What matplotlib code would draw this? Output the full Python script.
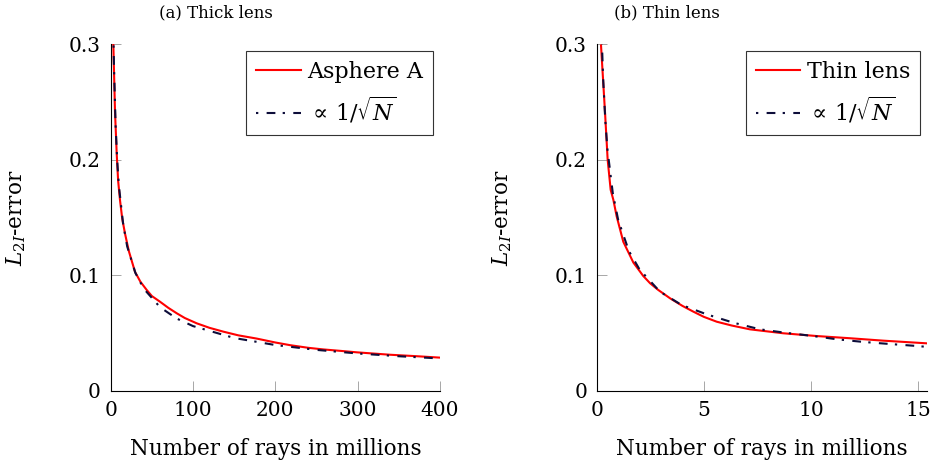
import matplotlib
matplotlib.use("Agg")
import matplotlib.pyplot as plt

plt.rcParams["font.family"] = "DejaVu Serif"
plt.rcParams["mathtext.fontset"] = "dejavuserif"

# (a) thick lens: error vs. number of rays (millions)
thick_n = [3.2, 5.2, 7.3, 9, 11.3, 14, 17.4, 22, 29.5, 36, 43.7, 50, 59.9, 70,
           80.2, 90, 104.5, 120, 136.8, 155, 177.3, 200, 217.8, 240, 258.3,
           280, 298.8, 320, 339.3, 370, 400]
thick_err = [0.300, 0.242, 0.205, 0.182, 0.165, 0.149, 0.136, 0.121, 0.103,
             0.0945, 0.0873, 0.0820, 0.0771, 0.0718, 0.0671, 0.0630, 0.0584,
             0.0545, 0.0512, 0.0480, 0.0452, 0.0418, 0.0395, 0.0372, 0.0358,
             0.0345, 0.0333, 0.0322, 0.0312, 0.0300, 0.0287]
thick_fit_n = [3.5, 4, 6, 8, 10, 15, 20, 30, 40, 60, 80, 100, 150, 200, 250,
               300, 350, 400]
thick_fit = [0.299, 0.280, 0.229, 0.198, 0.177, 0.145, 0.125, 0.102, 0.0885,
             0.0723, 0.0626, 0.0560, 0.0457, 0.0396, 0.0354, 0.0323, 0.0299, 0.0280]

# (b) thin lens
thin_n = [0.20, 0.39, 0.51, 0.65, 0.78, 0.93, 1.24, 1.71, 2.17, 2.49, 2.87,
          3.42, 4.0, 4.51, 5.0, 5.6, 6.3, 7.15, 8.7, 10.26, 11.81, 13.37, 15.39]
thin_err = [0.299, 0.240, 0.200, 0.174, 0.165, 0.151, 0.129, 0.111, 0.0994,
            0.0931, 0.0873, 0.0801, 0.0735, 0.0685, 0.0640, 0.0598, 0.0565,
            0.0532, 0.0498, 0.0474, 0.0455, 0.0434, 0.0411]
thin_fit_n = [0.24, 0.3, 0.4, 0.5, 0.75, 1, 1.5, 2, 2.95, 3.96, 5.13, 6.37,
              7.62, 8.78, 10.1, 11.2, 12.43, 13.68, 14.93, 15.4]
thin_fit = [0.302, 0.270, 0.234, 0.209, 0.171, 0.148, 0.121, 0.105, 0.0858,
            0.0743, 0.0662, 0.0590, 0.0532, 0.0503, 0.0474, 0.0446, 0.0423,
            0.0405, 0.0388, 0.0380]

fig = plt.figure(figsize=(9.39, 4.68), dpi=100)
ax1 = fig.add_axes([0.1179, 0.1650, 0.3507, 0.7404])
ax2 = fig.add_axes([0.6355, 0.1650, 0.3514, 0.7404])

panels = [
    (ax1, thick_n, thick_err, thick_fit_n, thick_fit, "Asphere A", 400,
     [0, 100, 200, 300, 400], "(a) Thick lens", 216),
    (ax2, thin_n, thin_err, thin_fit_n, thin_fit, "Thin lens", 15.4,
     [0, 5, 10, 15], "(b) Thin lens", 667),
]

for ax, n, err, fn, fit, name, xmax, xticks, title, tx in panels:
    ax.plot(n, err, color="#ff0000", lw=1.5, label=name, zorder=3)
    ax.plot(fn, fit, color="#0d0d3a", lw=1.5, dashes=(1.1, 4.0, 4.2, 3.5),
            label=r"$\propto\,1/\sqrt{N}$", zorder=4)
    ax.set_xlim(0, xmax)
    ax.set_ylim(0, 0.3)
    ax.set_xticks(xticks)
    ax.set_yticks([0, 0.1, 0.2, 0.3])
    ax.set_yticklabels(["0", "0.1", "0.2", "0.3"])
    for side in ("top", "right"):
        ax.spines[side].set_visible(False)
    for side in ("left", "bottom"):
        ax.spines[side].set_linewidth(0.8)
    ax.tick_params(direction="in", length=7, width=0.6, color="#999999",
                   labelsize=14.5, pad=7)
    ax.set_xlabel("Number of rays in millions", fontsize=15.5)
    ax.xaxis.set_label_coords(0.5, -0.135)
    ax.set_ylabel(r"$L_{2I}$-error", fontsize=15.5)
    ax.yaxis.set_label_coords(-0.25, 0.5)
    leg = ax.legend(loc="upper right", bbox_to_anchor=(0.98, 0.981),
                    borderaxespad=0, fontsize=16, handlelength=2.0,
                    handletextpad=0.3, borderpad=0.45, labelspacing=0.55,
                    fancybox=False, framealpha=1, edgecolor="#333333")
    leg.get_frame().set_linewidth(0.8)
    fig.text(tx / 939, 1 - 13 / 468, title, fontsize=12, ha="center", va="center")

fig.savefig("out.png", dpi=100)
